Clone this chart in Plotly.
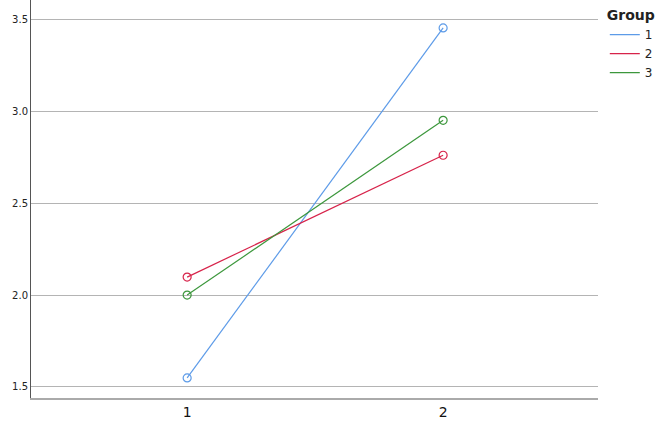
import plotly.graph_objects as go

categories = ["1", "2"]
x_pos = [1, 2]
groups = ["1", "2", "3"]
group1 = [1.549, 3.454]
group2 = [2.098, 2.761]
group3 = [2.000, 2.951]
colors = ["#5d9be8", "#d7234a", "#3c973c"]
y_ticks = [1.5, 2.0, 2.5, 3.0, 3.5]
y_tick_labels = ["1.5", "2.0", "2.5", "3.0", "3.5"]

fig = go.Figure()
for name, vals, c in zip(groups, [group1, group2, group3], colors):
    fig.add_trace(go.Scatter(
        x=x_pos, y=vals, name=name, mode="lines", legendgroup=name,
        line=dict(color=c, width=1.2),
    ))
    fig.add_trace(go.Scatter(
        x=x_pos, y=vals, name=name, mode="markers", legendgroup=name, showlegend=False,
        marker=dict(symbol="circle-open", size=8, color=c, line=dict(width=1.2)),
    ))

fig.update_layout(
    width=661, height=433,
    margin=dict(l=31, r=63, t=0, b=35, autoexpand=False),
    plot_bgcolor="white", paper_bgcolor="white",
    font=dict(family="DejaVu Sans", color="#222"),
    legend=dict(
        title=dict(text="<b>Group</b>", font=dict(size=14, family="DejaVu Sans")),
        x=1.012, xanchor="left", y=0.995, yanchor="top",
        font=dict(size=12), tracegroupgap=0, itemwidth=30,
    ),
    xaxis=dict(
        range=[0.39, 2.605], tickvals=x_pos, ticktext=categories,
        showgrid=False, zeroline=False, showline=True, linecolor="#aaaaaa", linewidth=2,
        ticks="", tickfont=dict(size=14, color="#111"),
    ),
    yaxis=dict(
        range=[1.44, 3.606], tickvals=y_ticks, ticktext=y_tick_labels,
        showgrid=True, gridcolor="#b4b4b4", gridwidth=1, zeroline=False,
        showline=True, linecolor="#555555", linewidth=1,
        ticks="", tickfont=dict(size=10, color="#222"),
    ),
)
fig.write_html("out.html", config={"displayModeBar": False},
               post_script="document.body.style.margin='0';")
